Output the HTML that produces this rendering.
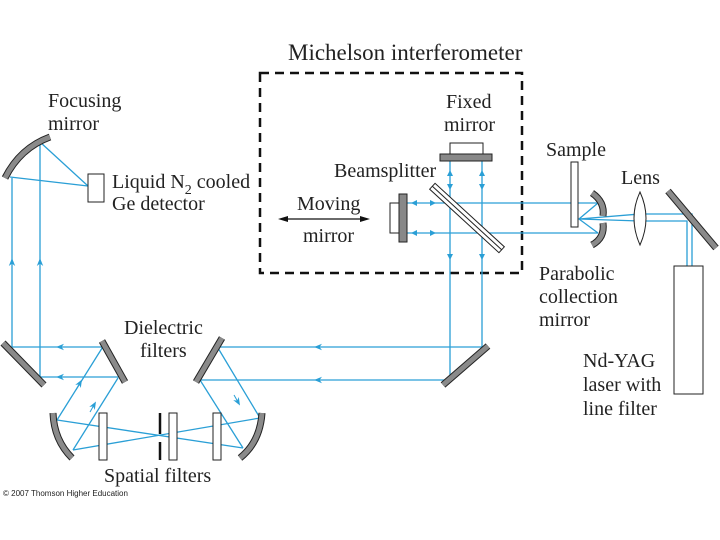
<!DOCTYPE html>
<html><head><meta charset="utf-8"><style>
html,body{margin:0;padding:0;background:#fff}
svg{display:block}
text{font-family:"Liberation Serif",serif;font-size:20px;fill:#222}
</style></head><body>
<svg width="720" height="540" viewBox="0 0 720 540" xmlns="http://www.w3.org/2000/svg">
<defs>
<marker id="a" viewBox="0 0 10 10" refX="5" refY="5" markerWidth="8" markerHeight="8" orient="auto"><path d="M0,1 L10,5 L0,9 L3,5 z" fill="#2a9fd6"/></marker>
</defs>
<rect x="260" y="73" width="262" height="200" fill="none" stroke="#111" stroke-width="2.5" stroke-dasharray="9,6"/>
<g stroke="#2a9fd6" stroke-width="1.3" fill="none">
<line x1="450" y1="161" x2="450" y2="380"/>
<line x1="482" y1="161" x2="482" y2="347"/>
<line x1="407" y1="203" x2="598" y2="203"/>
<line x1="407" y1="233" x2="598" y2="233"/>
<polyline points="598,203 579,219 598,233"/>
<polyline points="640,214 579,219 640,221"/>
<polyline points="640,214 692,214 692,266"/>
<polyline points="640,221 687,221 687,266"/>
<line x1="482" y1="347" x2="218" y2="347"/>
<line x1="450" y1="380" x2="200" y2="380"/>
<line x1="105" y1="347" x2="12" y2="347"/>
<line x1="120" y1="377" x2="40" y2="377"/>
<line x1="12" y1="347" x2="12" y2="178"/>
<line x1="40" y1="377" x2="40" y2="138"/>
<polyline points="40,142 88,186 10,177"/>
<line x1="57" y1="420" x2="104" y2="345"/>
<line x1="73" y1="450" x2="118" y2="378"/>
<line x1="57" y1="420" x2="243" y2="448"/>
<line x1="73" y1="450" x2="260" y2="418"/>
<line x1="218" y1="348" x2="260" y2="418"/>
<line x1="200" y1="380" x2="243" y2="448"/>
</g>
<g>
<path d="M12,272 L12,262" stroke="#2a9fd6" marker-end="url(#a)"/>
<path d="M40,272 L40,262" stroke="#2a9fd6" marker-end="url(#a)"/>
<path d="M68,347 L60,347" stroke="#2a9fd6" marker-end="url(#a)"/>
<path d="M68,377 L60,377" stroke="#2a9fd6" marker-end="url(#a)"/>
<path d="M326,347 L318,347" stroke="#2a9fd6" marker-end="url(#a)"/>
<path d="M326,380 L318,380" stroke="#2a9fd6" marker-end="url(#a)"/>
<path d="M76,390 L80,383" stroke="#2a9fd6" marker-end="url(#a)"/>
<path d="M90,412 L94,405" stroke="#2a9fd6" marker-end="url(#a)"/>
<path d="M234,395 L238,402" stroke="#2a9fd6" marker-end="url(#a)"/>
<path d="M214,414 L218,421" stroke="#2a9fd6" marker-end="url(#a)"/>
</g>
<g fill="#2a9fd6">
<path d="M450,170 l-3,6 h6z"/><path d="M450,190 l-3,-6 h6z"/>
<path d="M482,170 l-3,6 h6z"/><path d="M482,190 l-3,-6 h6z"/>
<path d="M450,260 l-3,-6 h6z"/><path d="M482,260 l-3,-6 h6z"/>
<path d="M411,203 l6,-3 v6z"/><path d="M436,203 l-6,-3 v6z"/>
<path d="M411,233 l6,-3 v6z"/><path d="M436,233 l-6,-3 v6z"/>
</g>
<g fill="#888" stroke="#222" stroke-width="1">
<rect x="440" y="154" width="52" height="7"/>
<rect x="399" y="194" width="8" height="48"/>
</g>
<g fill="#fff" stroke="#222" stroke-width="1">
<rect x="450" y="143" width="33" height="11"/>
<rect x="390" y="203" width="9" height="30"/>
<rect x="571" y="162" width="7" height="65"/>
<rect x="88" y="174" width="16" height="28"/>
<rect x="674" y="266" width="29" height="128"/>
<rect x="99" y="413" width="8" height="47"/>
<rect x="169" y="413" width="8" height="47"/>
<rect x="213" y="413" width="8" height="47"/>
<path d="M640,192 Q652,218 640,245 Q628,218 640,192z"/>
</g>
<g transform="translate(467,218) rotate(42.5)">
<rect x="-47" y="-4" width="94" height="8" fill="#fff" stroke="#222" stroke-width="1"/>
<line x1="-47" y1="0" x2="47" y2="0" stroke="#222" stroke-width="1"/>
</g>
<g fill="none" stroke-width="7" stroke="#222">
<line x1="668" y1="191" x2="716" y2="248"/>
<line x1="443" y1="385" x2="488" y2="346"/>
<line x1="3" y1="343" x2="44" y2="385"/>
<line x1="102" y1="341" x2="125" y2="382"/>
<line x1="222" y1="338" x2="196" y2="382"/>
<path d="M5,178 Q20,148 50,137"/>
<path d="M53,413 Q54,440 72,458"/>
<path d="M262,413 Q260,442 240,458"/>
<path d="M592,193 Q605,202 603,216"/>
<path d="M603,223 Q605,238 592,245"/>
</g>
<g fill="none" stroke-width="5" stroke="#8a8a8a">
<line x1="668" y1="191" x2="716" y2="248"/>
<line x1="443" y1="385" x2="488" y2="346"/>
<line x1="3" y1="343" x2="44" y2="385"/>
<line x1="102" y1="341" x2="125" y2="382"/>
<line x1="222" y1="338" x2="196" y2="382"/>
<path d="M5,178 Q20,148 50,137"/>
<path d="M53,413 Q54,440 72,458"/>
<path d="M262,413 Q260,442 240,458"/>
<path d="M592,193 Q605,202 603,216"/>
<path d="M603,223 Q605,238 592,245"/>
</g>
<line x1="160" y1="413" x2="160" y2="434" stroke="#111" stroke-width="2.5"/>
<line x1="160" y1="442" x2="160" y2="460" stroke="#111" stroke-width="2.5"/>
<line x1="284" y1="219" x2="364" y2="219" stroke="#111" stroke-width="1.2"/>
<path d="M278,219 l10,-3 v6z M370,219 l-10,-3 v6z" fill="#111"/>
<text x="288" y="60" style="font-size:23px">Michelson interferometer</text>
<text x="48" y="107">Focusing</text>
<text x="48" y="130">mirror</text>
<text x="112" y="188">Liquid N<tspan font-size="14" dy="6">2</tspan><tspan dy="-6"> cooled</tspan></text>
<text x="112" y="210">Ge detector</text>
<text x="446" y="108">Fixed</text>
<text x="444" y="131">mirror</text>
<text x="334" y="177">Beamsplitter</text>
<text x="297" y="210">Moving</text>
<text x="303" y="242">mirror</text>
<text x="546" y="156">Sample</text>
<text x="621" y="184">Lens</text>
<text x="539" y="280">Parabolic</text>
<text x="539" y="303">collection</text>
<text x="539" y="326">mirror</text>
<text x="583" y="367">Nd-YAG</text>
<text x="583" y="391">laser with</text>
<text x="583" y="415">line filter</text>
<text x="124" y="334">Dielectric</text>
<text x="140" y="357">filters</text>
<text x="104" y="482">Spatial filters</text>
<text x="3" y="496" style="font-family:'Liberation Sans',sans-serif;font-size:8px">© 2007 Thomson Higher Education</text>
</svg>
</body></html>
